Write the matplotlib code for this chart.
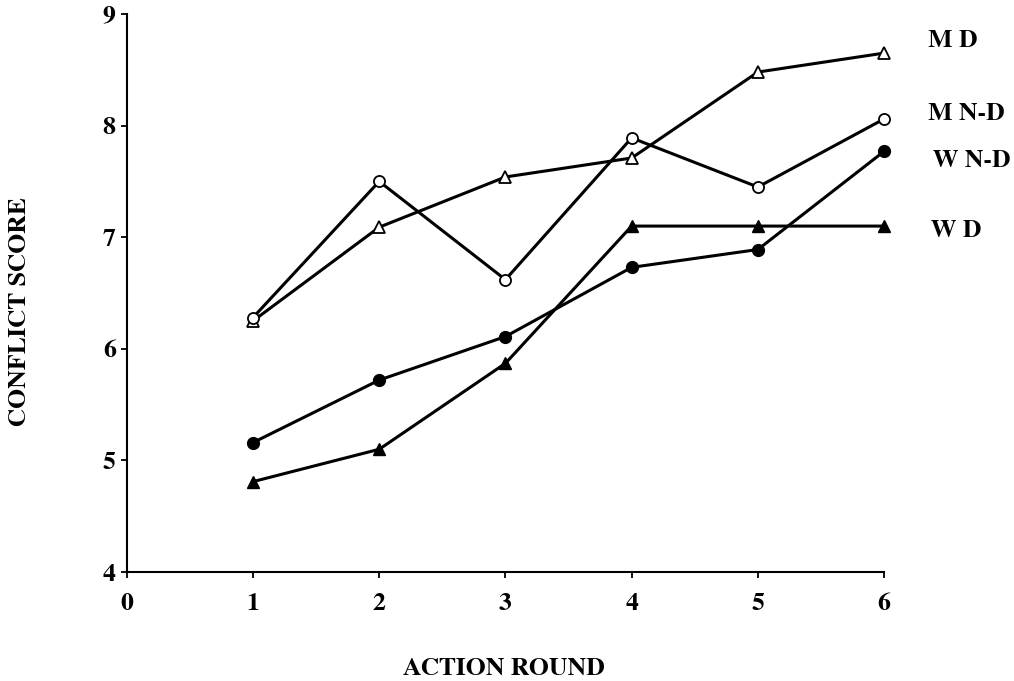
import matplotlib
matplotlib.use("Agg")
import matplotlib.pyplot as plt

rounds = [1, 2, 3, 4, 5, 6]
m_d = [6.25, 7.09, 7.54, 7.71, 8.48, 8.65]
m_nd = [6.28, 7.50, 6.62, 7.89, 7.45, 8.06]
w_nd = [5.16, 5.72, 6.11, 6.73, 6.89, 7.77]
w_d = [4.81, 5.10, 5.87, 7.10, 7.10, 7.10]
series_labels = ["M D", "M N-D", "W N-D", "W D"]
label_x = [6.35, 6.35, 6.39, 6.37]
label_y = [8.706, 8.047, 7.632, 7.004]
x_ticks = [0, 1, 2, 3, 4, 5, 6]
y_ticks = [4, 5, 6, 7, 8, 9]

plt.rcParams['font.family'] = ['FreeSerif', 'Liberation Serif', 'DejaVu Serif']
plt.rcParams['font.weight'] = 'bold'

fig = plt.figure(figsize=(10.14, 6.81), dpi=100)
ax = fig.add_axes([0.1250, 0.160, 0.7469, 0.8194])

lw = 2.2
ax.plot(rounds, m_d, color='black', lw=lw, marker='^', markersize=8,
        markerfacecolor='white', markeredgecolor='black', markeredgewidth=1.3, clip_on=False, zorder=3)
ax.plot(rounds, m_nd, color='black', lw=lw, marker='o', markersize=8,
        markerfacecolor='white', markeredgecolor='black', markeredgewidth=1.3, clip_on=False, zorder=3)
ax.plot(rounds, w_nd, color='black', lw=lw, marker='o', markersize=8.5,
        markerfacecolor='black', markeredgecolor='black', clip_on=False, zorder=3)
ax.plot(rounds, w_d, color='black', lw=lw, marker='^', markersize=8.5,
        markerfacecolor='black', markeredgecolor='black', clip_on=False, zorder=3)

for lab, lx, ly in zip(series_labels, label_x, label_y):
    ax.text(lx, ly, lab, fontsize=18.5, fontweight='bold', ha='left', va='baseline',
            clip_on=False)

ax.set_xlim(0, 6)
ax.set_ylim(4, 9)
ax.set_xticks(x_ticks)
ax.set_yticks(y_ticks)
ax.spines['top'].set_visible(False)
ax.spines['right'].set_visible(False)
ax.spines['left'].set_linewidth(1.5)
ax.spines['bottom'].set_linewidth(1.5)
ax.tick_params(axis='both', direction='out', length=4, width=1.3, labelsize=18.5)
ax.tick_params(axis='x', pad=11)
ax.tick_params(axis='y', pad=4)
for t in ax.get_xticklabels() + ax.get_yticklabels():
    t.set_fontweight('bold')

fig.text(0.4966, 0.0088, "ACTION ROUND", fontsize=18.5, fontweight='bold', ha='center', va='baseline')
fig.text(0.0197, 0.542, "CONFLICT SCORE", fontsize=18.5, fontweight='bold', ha='center', va='center',
         rotation=90)

fig.savefig("out.png", dpi=100)
